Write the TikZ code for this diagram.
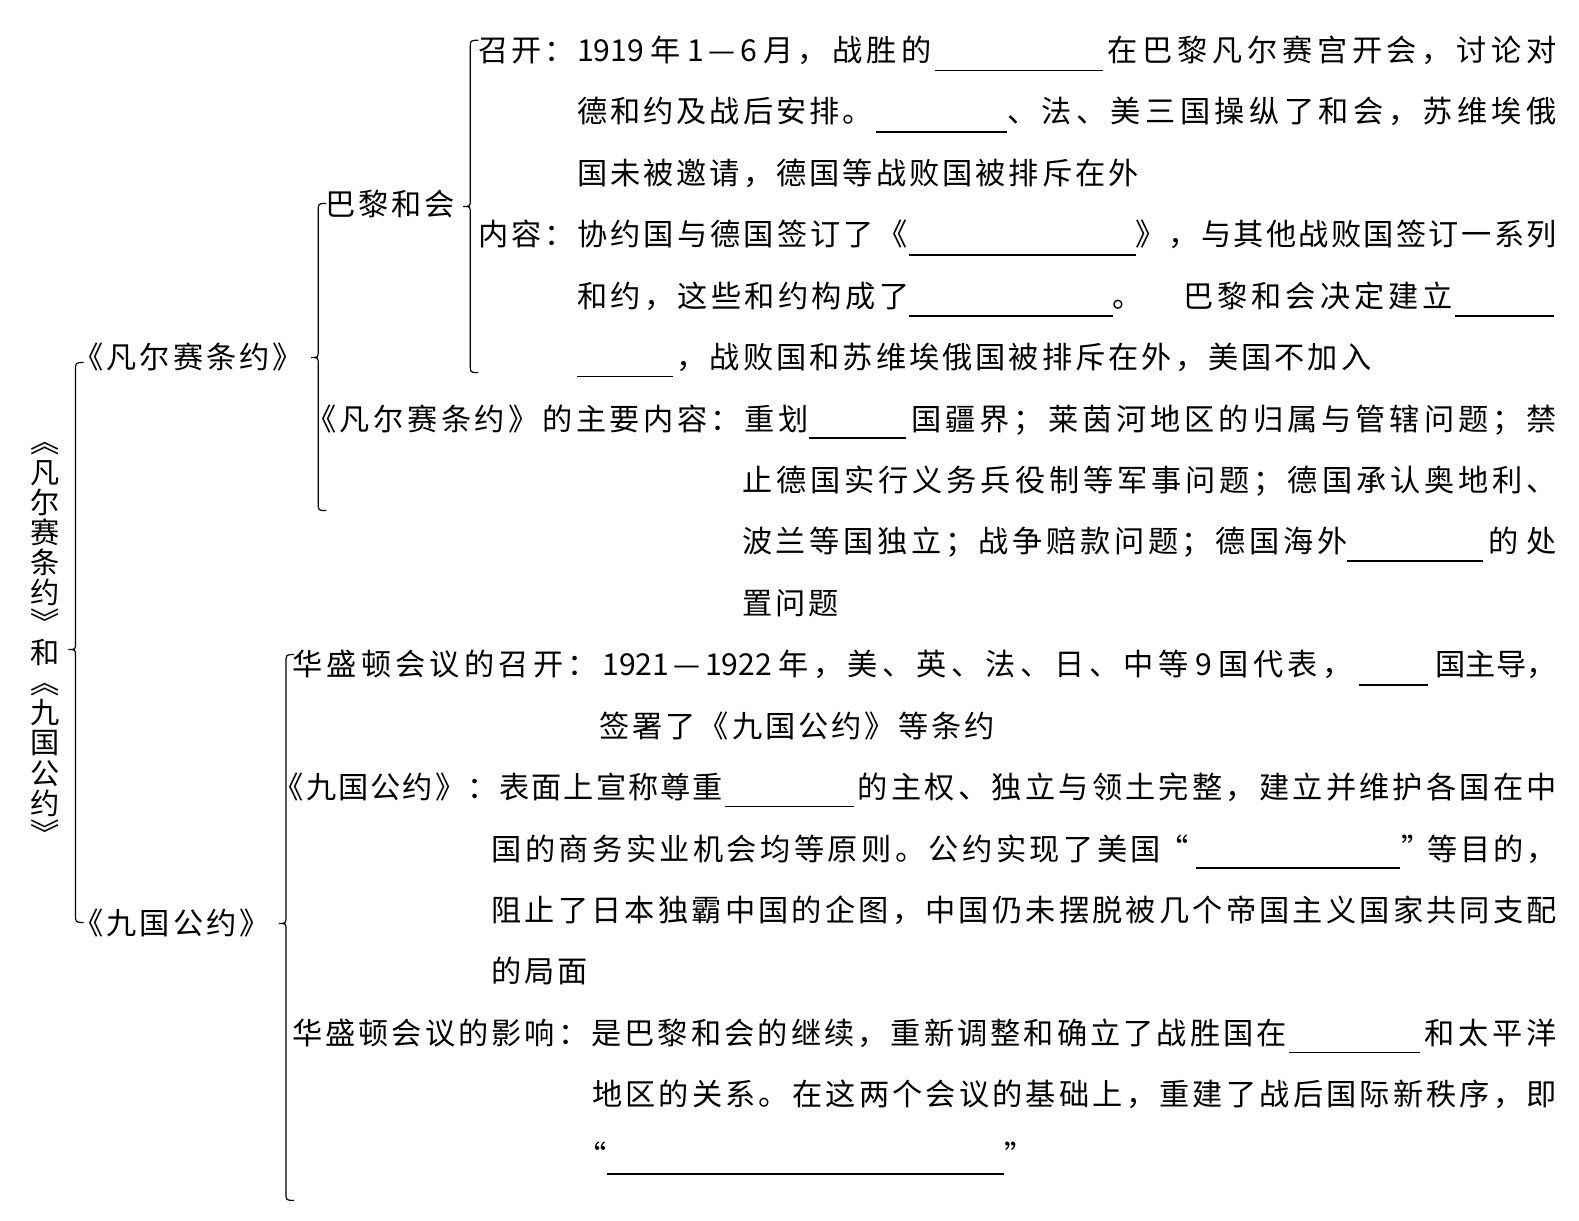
\documentclass[tikz,border=0pt]{standalone}
\usepackage{fontspec}
\newfontfamily\cjk{Noto Sans CJK SC}
\newfontfamily\cjkv{Noto Sans CJK SC}
\newlength\myu \setlength\myu{0.5035pt}
\newcommand{\jw}[2]{\makebox[#1\myu][s]{#2}}
\newXeTeXintercharclass\cjkcls
\makeatletter
\count@="3000
\loop \XeTeXcharclass\count@=\cjkcls \advance\count@ 1 \ifnum\count@<"3040 \repeat
\count@="4E00
\loop \XeTeXcharclass\count@=\cjkcls \advance\count@ 1 \ifnum\count@<"A000 \repeat
\count@="FF00
\loop \XeTeXcharclass\count@=\cjkcls \advance\count@ 1 \ifnum\count@<"FFF0 \repeat
\XeTeXcharclass"2014=\cjkcls
\makeatother
\XeTeXinterchartoks\cjkcls\cjkcls={\hskip1.51pt plus 1fil minus 1fil}
\XeTeXinterchartoks\cjkcls 0={\hskip1.51pt plus 1fil minus 1fil}
\XeTeXinterchartoks 0\cjkcls={\hskip1.51pt plus 1fil minus 1fil}
\XeTeXinterchartokenstate=1
\newcommand{\brc}[4]{% x, ytop, ytip, ybot
  \draw[brline] (#1+8,#2) .. controls (#1,#2) .. (#1,#2+8) -- (#1,#3-7)
     .. controls (#1,#3) .. (#1-7,#3) .. controls (#1,#3) .. (#1,#3+7)
     -- (#1,#4-8) .. controls (#1,#4) .. (#1+8,#4);}
\begin{document}
\begin{tikzpicture}[x=0.5035pt,y=-0.5035pt,
  tx/.style={anchor=base west, inner sep=0pt, outer sep=0pt, font=\cjk\fontsize{15.1}{18}\selectfont},
  blankline/.style={line width=0.75pt},
  brline/.style={line width=0.6pt}]
\useasboundingbox[fill=white] (0,0) rectangle (1568,1212);

% vertical title
\node[inner sep=0pt, align=center, font=\cjkv\fontsize{14.6}{15.05}\selectfont] (title) at (45,639)
  {︽\\凡\\尔\\赛\\条\\约\\︾\\和\\︽\\九\\国\\公\\约\\︾};

% braces
\brc{75}{360}{645}{916}
\brc{316}{202}{355}{507}
\brc{467}{40}{205}{370}
\brc{284}{650}{917}{1192}

% level 1
\node[tx] (fes) at (73,366) {《凡尔赛条约》};
\node[tx] (jggy) at (73,928) {《九国公约》};
\node[tx] (blhh) at (323,214) {巴黎和会};

% line 1
\node[tx] (l1a) at (475,61) {召开：};
\node[tx] (l1b) at (573,61) {\jw{352}{1919 年 1—6 月，战胜的}};
\draw[blankline] (928,70) -- (1095,70);
\node[tx] (l1c) at (1100,61) {\jw{446}{在巴黎凡尔赛宫开会，讨论对}};
% line 2
\node[tx] (l2a) at (573,122) {德和约及战后安排。};
\draw[blankline] (870,131) -- (1000,131);
\node[tx] (l2b) at (1000,122) {\jw{546}{、法、美三国操纵了和会，苏维埃俄}};
% line 3
\node[tx] (l3a) at (573,183) {国未被邀请，德国等战败国被排斥在外};
% line 4
\node[tx] (l4a) at (475,244) {内容：};
\node[tx] (l4b) at (573,244) {\jw{328}{协约国与德国签订了《}};
\draw[blankline] (903,253) -- (1128,253);
\node[tx] (l4c) at (1128,244) {\jw{418}{》，与其他战败国签订一系列}};
% line 5
\node[tx] (l5a) at (573,305) {\jw{330}{和约，这些和约构成了}};
\draw[blankline] (903,314) -- (1105,314);
\node[tx] (l5b) at (1105,305) {。};
\node[tx] (l5c) at (1175,305) {\jw{268}{巴黎和会决定建立}};
\draw[blankline] (1445,314) -- (1543,314);
% line 6
\draw[blankline] (573,374) -- (668,374);
\node[tx] (l6a) at (672,366) {，战败国和苏维埃俄国被排斥在外，美国不加入};
% line 7
\node[tx] (l7a) at (304,427) {\jw{499}{《凡尔赛条约》的主要内容：重划}};
\draw[blankline] (803,435) -- (900,435);
\node[tx] (l7b) at (905,427) {\jw{641}{国疆界；莱茵河地区的归属与管辖问题；禁}};
% line 8
\node[tx] (l8a) at (737,488) {\jw{809}{止德国实行义务兵役制等军事问题；德国承认奥地利、}};
% line 9
\node[tx] (l9a) at (737,549) {\jw{601}{波兰等国独立；战争赔款问题；德国海外}};
\draw[blankline] (1338,557) -- (1473,557);
\node[tx] (l9b) at (1478,549) {\jw{68}{的处}};
% line 10
\node[tx] (l10a) at (737,610) {置问题};
% line 11
\node[tx] (l11a) at (290,671) {\jw{1053}{华盛顿会议的召开：1921—1922 年，美、英、法、日、中等 9 国代表，}};
\draw[blankline] (1350,680) -- (1418,680);
\node[tx] (l11b) at (1425,671) {\jw{121}{国主导，}};
% line 12
\node[tx] (l12a) at (595,732) {签署了《九国公约》等条约};
% line 13
\node[tx] (l13a) at (272,793) {\jw{446}{《九国公约》：表面上宣称尊重}};
\draw[blankline] (720,801) -- (848,801);
\node[tx] (l13b) at (852,793) {\jw{694}{的主权、独立与领土完整，建立并维护各国在中}};
% line 14
\node[tx] (l14a) at (488,854) {\jw{665}{国的商务实业机会均等原则。公约实现了美国}};
\node[tx] (l14q) at (1150,854) {“};
\draw[blankline] (1188,862) -- (1390,862);
\node[tx] (l14r) at (1392,854) {”};
\node[tx] (l14b) at (1418,854) {\jw{128}{等目的，}};
% line 15
\node[tx] (l15a) at (488,915) {\jw{1058}{阻止了日本独霸中国的企图，中国仍未摆脱被几个帝国主义国家共同支配}};
% line 16
\node[tx] (l16a) at (488,976) {的局面};
% line 17
\node[tx] (l17a) at (290,1037) {\jw{988}{华盛顿会议的影响：是巴黎和会的继续，重新调整和确立了战胜国在}};
\draw[blankline] (1280,1045) -- (1410,1045);
\node[tx] (l17b) at (1415,1037) {\jw{131}{和太平洋}};
% line 18
\node[tx] (l18a) at (588,1098) {\jw{958}{地区的关系。在这两个会议的基础上，重建了战后国际新秩序，即}};
% line 19
\node[tx] (l19q) at (572,1159) {“};
\draw[blankline] (603,1166) -- (997,1166);
\node[tx] (l19r) at (997,1159) {”};
\end{tikzpicture}
\end{document}
